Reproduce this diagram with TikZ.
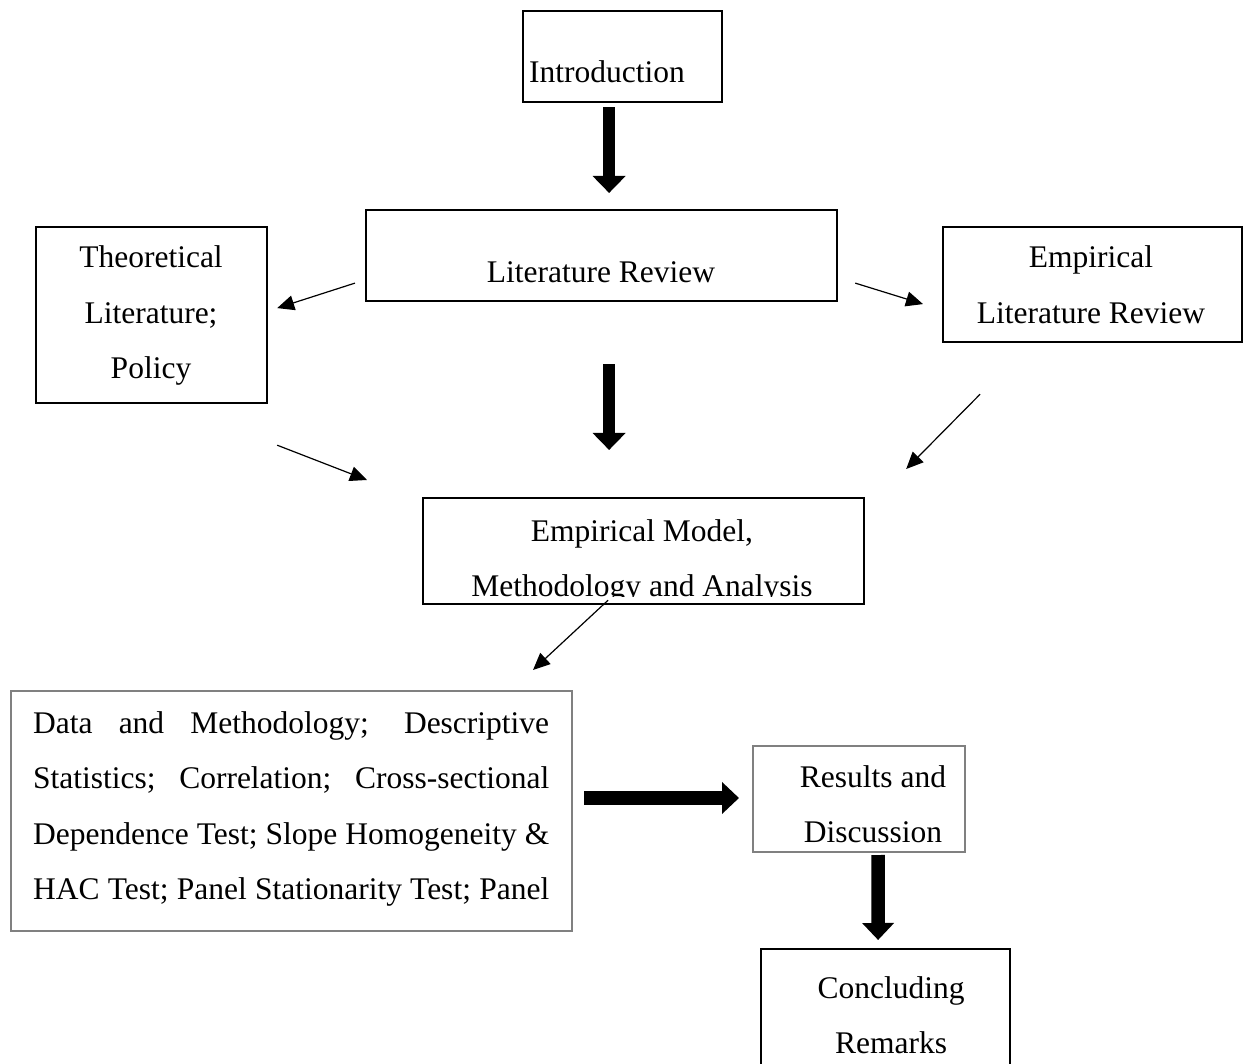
\documentclass[tikz,border=0pt]{standalone}
\usepackage{fontspec}
\setmainfont{Liberation Serif}
\usetikzlibrary{arrows.meta,calc}
\begin{document}
\begin{tikzpicture}[x=1pt,y=-1pt,
 box/.style={draw=black, line width=2.2pt, rectangle, inner sep=0pt, anchor=north west},
 gbox/.style={draw=black!50, line width=2pt, rectangle, inner sep=0pt, anchor=north west},
 txt/.style={font=\fontsize{31.5}{55.5}\selectfont, inner sep=0pt, anchor=base},
 thinarr/.style={line width=1.2pt, -{Triangle[length=17pt,width=15pt]}},
 fatarr/.style={line width=12.5pt, -{Triangle[length=17pt,width=32pt]}},
 fatarrb/.style={line width=13.5pt, -{Triangle[length=17pt,width=31pt]}},
]
\clip (0,0) rectangle (1243,1064);
\fill[white] (0,0) rectangle (1243,1064);

% boxes
\node[box, minimum width=199pt, minimum height=91pt] (intro) at (522,10) {};
\node[box, minimum width=471pt, minimum height=91pt] (lit) at (365,209) {};
\node[box, minimum width=231pt, minimum height=176pt] (theo) at (35,226) {};
\node[box, minimum width=299pt, minimum height=115pt] (emplit) at (942,226) {};
\node[box, minimum width=441pt, minimum height=106pt] (emp) at (422,497) {};
\node[gbox, minimum width=561pt, minimum height=240pt] (data) at (10,690) {};
\node[gbox, minimum width=212pt, minimum height=106pt] (res) at (752,745) {};
\node[box, minimum width=249pt, minimum height=150pt] (concl) at (760,948) {};

% texts
\node[txt] (introT) at (607,83) {Introduction};
\node[txt] (litT) at (601,283) {Literature Review};
\node[txt] (theoT) at (151,268) {\begin{tabular}[t]{@{}c@{}}Theoretical\\Literature;\\Policy\end{tabular}};
\node[txt] (emplitT) at (1091,268) {\begin{tabular}[t]{@{}c@{}}Empirical\\Literature Review\end{tabular}};
\begin{scope}
\clip (424,499) rectangle (861,596);
\node[txt] (empT) at (642,541) {\begin{tabular}[t]{@{}c@{}}Empirical Model,\\Methodology and Analysis\end{tabular}};
\end{scope}
\node[txt, anchor=base west] (dataT) at (33,733) {\begin{tabular}[t]{@{}l@{}}%
\makebox[516pt][s]{Data and Methodology; Descriptive}\\
\makebox[516pt][s]{Statistics; Correlation; Cross-sectional}\\
\makebox[516pt][s]{Dependence Test; Slope Homogeneity \&}\\
\makebox[516pt][s]{HAC Test; Panel Stationarity Test; Panel}\end{tabular}};
\node[txt] (resT) at (873,787) {\begin{tabular}[t]{@{}c@{}}Results and\\Discussion\end{tabular}};
\node[txt] (conclT) at (891,998) {\begin{tabular}[t]{@{}c@{}}Concluding\\Remarks\end{tabular}};

% thick arrows
\draw[fatarr] ($(intro.south)+(-13.5,4)$) -- ($(lit.north)+(7.5,-16)$);
\draw[fatarr] ($(lit.south)+(7.5,62)$) -- ($(emp.north)+(-34.5,-47)$);
\draw[fatarrb] ($(data.east)+(11,-13)$) -- ($(res.west)+(-13,-1)$);
\draw[fatarrb] ($(res.south)+(19,2)$) -- ($(concl.north)+(-7.5,-8)$);

% thin arrows
\draw[thinarr] ($(lit.west)+(-10,27.5)$) -- ($(theo.east)+(9,-7)$);
\draw[thinarr] ($(lit.east)+(17,27.5)$) -- ($(emplit.west)+(-19,19.5)$);
\draw[thinarr] ($(theo.south east)+(9,41)$) -- ($(emp.north west)+(-55,-17)$);
\draw[thinarr] ($(emplit.south)+(-112.5,51)$) -- ($(emp.north east)+(41,-28)$);
\draw[thinarr] ($(emp.south)+(-35.5,-5)$) -- ($(data.north)+(241.5,-20)$);
\end{tikzpicture}
\end{document}
